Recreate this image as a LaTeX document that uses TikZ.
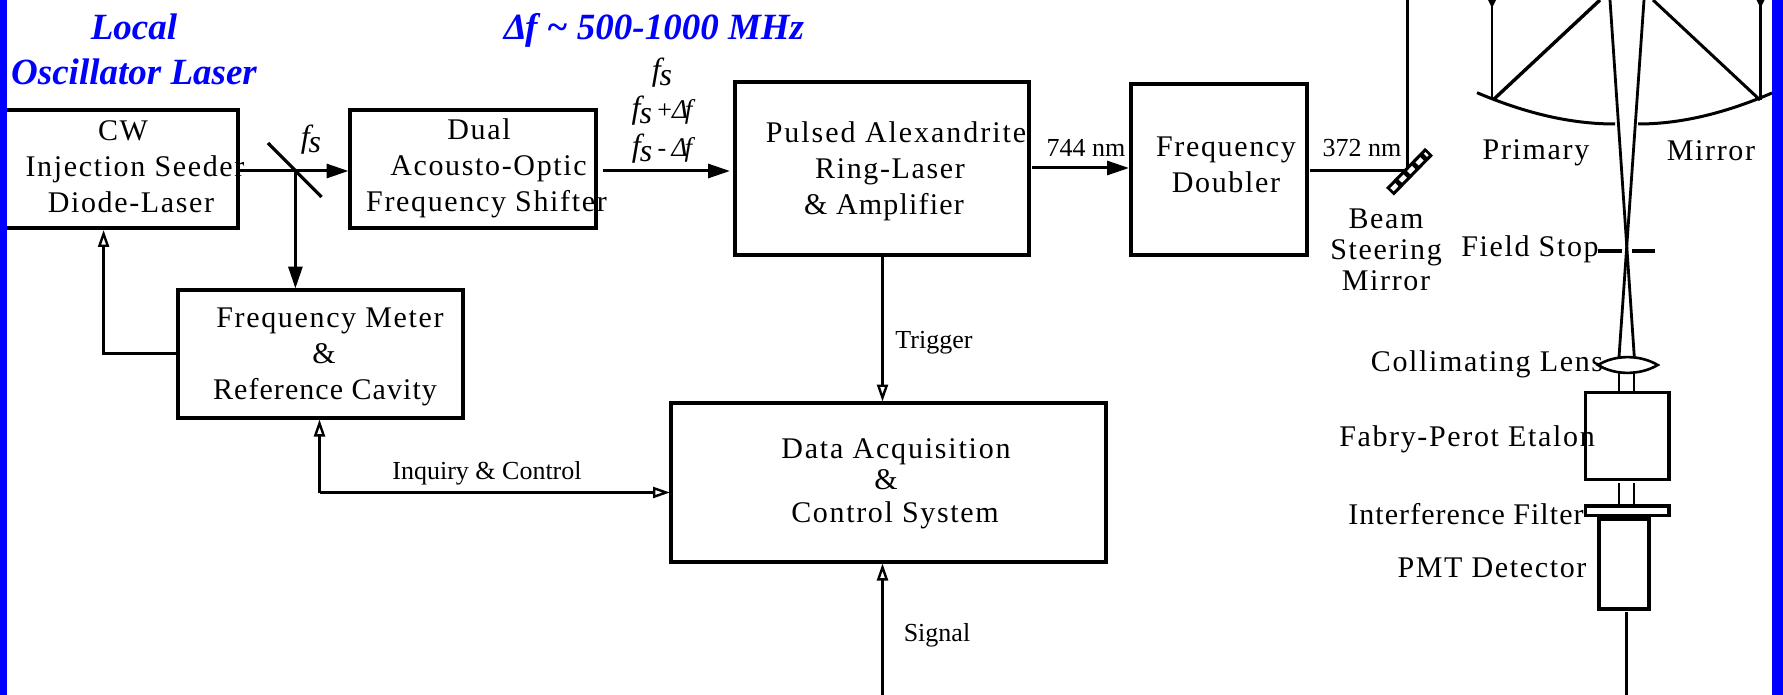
\documentclass[tikz,border=0pt]{standalone}
\usepackage{fontspec}
\setmainfont{Liberation Serif}
\newfontfamily\spacedfont[LetterSpace=5.5]{Liberation Serif}
\usetikzlibrary{arrows.meta,calc}
\definecolor{barblue}{RGB}{0,0,255}
\newcommand{\fsub}{{\itshape f}\kern-1pt\raisebox{-5pt}{\itshape s}}
\newcommand{\dfsym}{{\itshape\fontsize{27}{27}\selectfont Δ\kern-3pt f}}
\newcommand{\nudge}[1]{\hspace*{#1}}
\tikzset{
  x=1pt,y=-1pt,
  boxnode/.style={draw=black,line width=3.3pt,inner sep=0pt,outer sep=0pt,anchor=north west},
  lbl/.style={font=\fontsize{30}{36}\selectfont\spacedfont,align=center,inner sep=0pt},
  small/.style={font=\fontsize{26}{30}\selectfont,align=center,inner sep=0pt},
  blue/.style={font=\fontsize{37}{45}\selectfont\bfseries\itshape,text=barblue,align=center,inner sep=0pt},
  sym/.style={font=\fontsize{32}{37}\selectfont,align=center,inner sep=0pt},
  wire/.style={line width=3pt},
  beam/.style={line width=3pt,-{Triangle[length=22pt,width=14pt]}},
  hollow/.style={line width=2.6pt,-{Triangle[open,length=17pt,width=11pt,line width=2.4pt]}},
  ray/.style={line width=2.8pt},
}
\begin{document}
\begin{tikzpicture}
\useasboundingbox (0,0) rectangle (1783,695);
\fill[white] (0,0) rectangle (1783,695);
% boxes
\node[boxnode,minimum width=235pt,minimum height=118pt] (cw) at (3,110) {};
\node[boxnode,minimum width=246pt,minimum height=118pt] (dual) at (350,110) {};
\node[boxnode,minimum width=285pt,minimum height=128pt] (meter) at (178,290) {};
\node[boxnode,minimum width=294pt,minimum height=173pt] (pulsed) at (735,82) {};
\node[boxnode,minimum width=176pt,minimum height=171pt] (doubler) at (1131,84) {};
\node[boxnode,minimum width=435pt,minimum height=159pt] (daq) at (671,403) {};
\node[boxnode,minimum width=83.5pt,minimum height=86.5pt] (etalon) at (1585.5,392.7) {};
\node[boxnode,minimum width=83.5pt,minimum height=9.5pt] (filter) at (1585.5,506) {};
\node[boxnode,minimum width=50pt,minimum height=91pt] (pmt) at (1599,518) {};
% coordinates
\coordinate (split) at (295.4,171);
\coordinate (mA) at (268,143);
\coordinate (mB) at (321.5,197);
\coordinate (upA) at (103.6,353.6);
\coordinate (inqA) at (319.5,492.5);
\coordinate (trig) at (882.5,255);
\coordinate (sigB) at (882.5,695);
\coordinate (bsm) at (1407.7,171);
\coordinate (bsmT) at (1407.7,0);
\coordinate (bsA) at (1390,191.7);
\coordinate (bsB) at (1429,151.7);
\coordinate (y744) at (1080,168);
% beam splitter
\draw[line width=3.2pt] (mA) -- (mB);
\draw[wire,shorten <=1pt] (cw.east |- split) -- (split);
\draw[beam,shorten >=1.5pt] (split) -- (dual.west |- split);
\draw[beam,shorten >=1.5pt] (split) -- (meter.north -| split);
% main beam
\draw[beam,shorten <=7pt,shorten >=5pt] (dual.east |- split) -- (pulsed.west |- split);
\draw[beam,shorten <=3pt,shorten >=2pt] (pulsed.east |- y744) -- (doubler.west |- y744);
\draw[wire,shorten <=3pt] (doubler.east |- bsm) -- (bsm);
\draw[wire] (bsm) -- (bsmT);
% steering mirror
\draw[line width=11pt] (bsA) -- (bsB);
\draw[white,line width=4.5pt,dash pattern=on 7pt off 5pt] ($(bsA)!0.05!(bsB)$) -- ($(bsA)!0.95!(bsB)$);
% feedback
\draw[hollow,shorten >=2pt] (meter.west |- upA) -- (upA) -- (upA |- cw.south);
\draw[hollow,shorten >=1.5pt] (inqA) -- (inqA |- meter.south);
\draw[hollow,shorten >=1pt] (inqA) -- (daq.west |- inqA);
\draw[hollow,shorten >=1.5pt] (pulsed.south -| trig) -- (daq.north -| trig);
\draw[hollow,shorten >=1.5pt] (sigB) -- (daq.south -| sigB);
% primary mirror
\draw[line width=3pt] (1477,92.7) .. controls (1525,113) and (1570,124) .. (1615,124);
\draw[line width=3pt] (1638,124) .. controls (1685,124) and (1730,111) .. (1772,93);
\draw[ray] (1492,100) -- (1492,0);
\draw[ray] (1760.5,100) -- (1760.5,0);
\fill (1488,0) -- (1496,0) -- (1492,8) -- cycle;
\fill (1756.5,0) -- (1764.5,0) -- (1760.5,8) -- cycle;
\draw[line width=3.4pt] (1493,100) -- (1600,0);
\draw[line width=3pt] (1760,100) -- (1653,0);
% receiver rays
\draw[ray] (1610,0) -- (1634.3,357);
\draw[ray] (1644,0) -- (1619,357);
\draw[line width=2.6pt,fill=white] (1598,365) .. controls (1615,354.5) and (1640,354.5) .. (1657.7,365) .. controls (1640,375.5) and (1615,375.5) .. (1598,365) -- cycle;
\draw[ray] (1619,371) -- (1619,392);
\draw[ray] (1634,371) -- (1634,392);
\draw[ray] (1619,483) -- (1619,505);
\draw[ray] (1634,483) -- (1634,505);
\draw[line width=3.2pt] (1598,251) -- (1622,251);
\draw[line width=3.2pt] (1632,251) -- (1655,251);
\draw[line width=5pt] (pmt.north west) -- (pmt.north east);
\coordinate (pmtOut) at (1626.7,695);
\draw[ray,shorten <=3pt] (pmt.south -| pmtOut) -- (pmtOut);
% texts
\node[blue] (t1) at (134,49) {Local\\Oscillator Laser};
\node[blue] (t2) at (654,30) {Δ\kern-2pt f {\fontsize{37}{45}\selectfont\char"7E} 500-1000 MHz};
\node[lbl] (t3) at (130,167) {\nudge{-14pt}CW\\\nudge{10pt}Injection Seeder\\\nudge{2pt}Diode-Laser};
\node[lbl] (t4) at (485,168.5) {\nudge{-12pt}Dual\\\nudge{7pt}Acousto-Optic\\\nudge{3pt}Frequency Shifter};
\node[lbl] (t5) at (326,357) {\nudge{8pt}Frequency Meter\\\nudge{-4pt}\&\\\nudge{-2pt}{\addfontfeature{LetterSpace=3.5}Reference Cavity}};
\node[lbl] (t6) at (890,171) {\nudge{12pt}{\addfontfeature{LetterSpace=6.5}Pulsed Alexandrite}\\Ring-Laser\\\nudge{-12pt}{\addfontfeature{LetterSpace=4}\& Amplifier}};
\node[lbl] (t7) at (1226,165) {Frequency\\Doubler};
\node[lbl] (t8) at (893,483.5) {\nudge{6pt}{\addfontfeature{LetterSpace=6}Data Acquisition}\\[-5pt]\nudge{-14pt}\&\\[-3pt]\nudge{4pt}Control System};
\node[lbl,font=\fontsize{30}{31}\selectfont\spacedfont] (t9) at (1386,249.5) {Beam\\Steering\\Mirror};
\node[lbl] (t10) at (1536,153) {Primary};
\node[lbl] (t11) at (1711,151) {Mirror};
\node[lbl] (t12) at (1530,249) {Field Stop};
\node[lbl] (t13) at (1487,364) {Collimating Lens};
\node[lbl] (t14) at (1467,439) {Fabry-Perot Etalon};
\node[lbl] (t15) at (1466,514) {\addfontfeature{LetterSpace=3.5}Interference Filter};
\node[lbl] (t16) at (1492,568) {PMT Detector};
\node[small] (t17) at (1086,148) {744 nm};
\node[small] (t18) at (1362,148) {372 nm};
\node[small] (t19) at (934,343) {Trigger};
\node[small] (t20) at (937,635) {Signal};
\node[small] (t21) at (487,473) {Inquiry \& Control};
\node[sym] (t22) at (311,140) {\fsub};
\node[sym] (t23) at (662,111) {\fsub\\[1pt]\fsub\,{\fontsize{26}{26}\selectfont +}\dfsym\\[1pt]\fsub\,{\fontsize{26}{26}\selectfont -}\,\dfsym};
% side bars
\fill[barblue] (0,0) rectangle (7,695);
\fill[barblue] (1772,0) rectangle (1783,695);
\end{tikzpicture}
\end{document}
